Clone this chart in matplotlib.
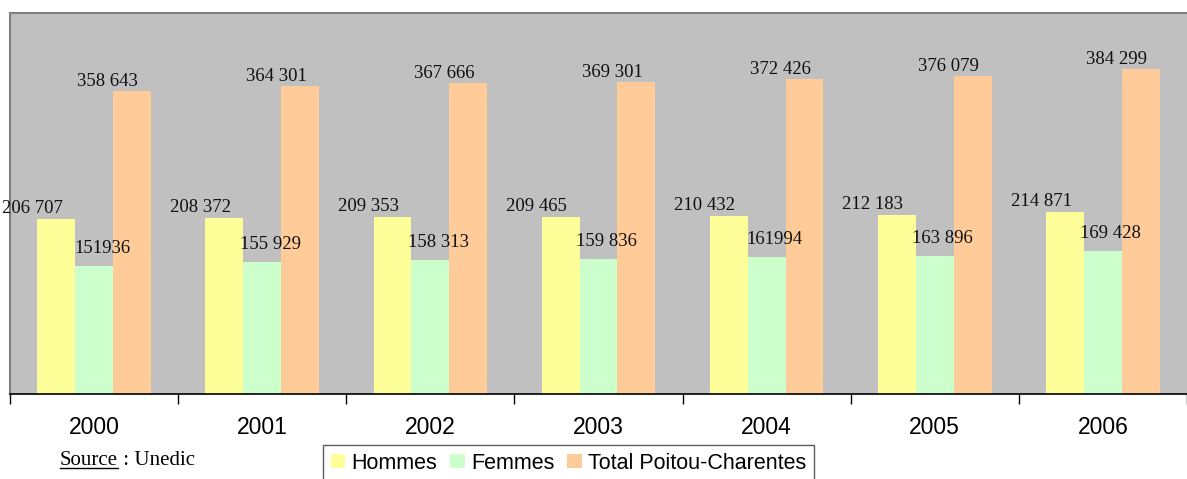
import matplotlib
matplotlib.use("Agg")
import matplotlib.pyplot as plt
from matplotlib.patches import Patch
from matplotlib.lines import Line2D
import numpy as np

years = ["2000", "2001", "2002", "2003", "2004", "2005", "2006"]
hommes = [206707, 208372, 209353, 209465, 210432, 212183, 214871]
femmes = [151936, 155929, 158313, 159836, 161994, 163896, 169428]
total = [358643, 364301, 367666, 369301, 372426, 376079, 384299]
hommes_lbl = ["206 707", "208 372", "209 353", "209 465", "210 432", "212 183", "214 871"]
femmes_lbl = ["151936", "155 929", "158 313", "159 836", "161994", "163 896", "169 428"]
total_lbl = ["358 643", "364 301", "367 666", "369 301", "372 426", "376 079", "384 299"]
series_names = ["Hommes", "Femmes", "Total Poitou-Charentes"]

colors = ["#FFFF99", "#CCFFCC", "#FFCC99"]

W, H = 1187, 479
fig = plt.figure(figsize=(W / 100, H / 100), dpi=100)
ax = fig.add_axes([10 / W, 85 / H, (W - 10) / W, 381 / H])
ax.set_facecolor("#C0C0C0")

x = np.arange(len(years))
bw = 0.225
series = [(hommes, hommes_lbl, -bw, -24, 2),
          (femmes, femmes_lbl, 0.0, 8, 9),
          (total, total_lbl, bw, -24, 1)]
for (vals, lbls, off, dx, dy), c in zip(series, colors):
    ax.bar(x + off, vals, width=bw, color=c, edgecolor="none", zorder=2)
    for xi, v, l in zip(x, vals, lbls):
        ax.annotate(l, (xi + off, v), xytext=(dx, dy), textcoords="offset pixels",
                    ha="center", va="bottom", fontsize=13.5,
                    family="Liberation Serif", color="#111111", zorder=3)

ax.set_xlim(-0.5, 6.41)
ax.set_ylim(0, 451000)
ax.set_yticks([])
ax.set_xticks(np.arange(-0.5, 7, 1.0))
ax.set_xticklabels([])
ax.set_xticks(x, minor=True)
ax.set_xticklabels(years, minor=True, fontsize=16.5, family="Liberation Sans")
ax.tick_params(axis="x", which="major", length=7, width=1, direction="out", color="black")
ax.tick_params(axis="x", which="minor", length=0, pad=16)
for s in ["top", "left"]:
    ax.spines[s].set_color("#808080")
    ax.spines[s].set_linewidth(1.5)
ax.spines["right"].set_visible(False)
ax.spines["bottom"].set_color("black")
ax.spines["bottom"].set_linewidth(1.2)

handles = [Patch(facecolor=c, edgecolor="none") for c in colors]
leg = fig.legend(handles, series_names, loc="upper left",
                 bbox_to_anchor=(323 / W, 1 - 445 / H), ncol=3,
                 prop={"family": "Liberation Sans", "size": 15.5},
                 frameon=True, fancybox=False, edgecolor="#333333",
                 handlelength=0.67, handleheight=0.67, handletextpad=0.3,
                 columnspacing=0.6, borderpad=0.35, borderaxespad=0)
leg.get_frame().set_linewidth(1.0)

t1 = fig.text(60 / W, 1 - 465 / H, "Source", fontsize=15, family="Liberation Serif",
              va="baseline", ha="left")
fig.canvas.draw()
bb = t1.get_window_extent()
fig.text((bb.x1) / W, 1 - 465 / H, " : Unedic", fontsize=15, family="Liberation Serif",
         va="baseline", ha="left")
yl = (H - 468) / H
fig.add_artist(Line2D([bb.x0 / W, bb.x1 / W], [yl, yl], color="black", linewidth=1.0))

fig.savefig("out.png", dpi=100)
